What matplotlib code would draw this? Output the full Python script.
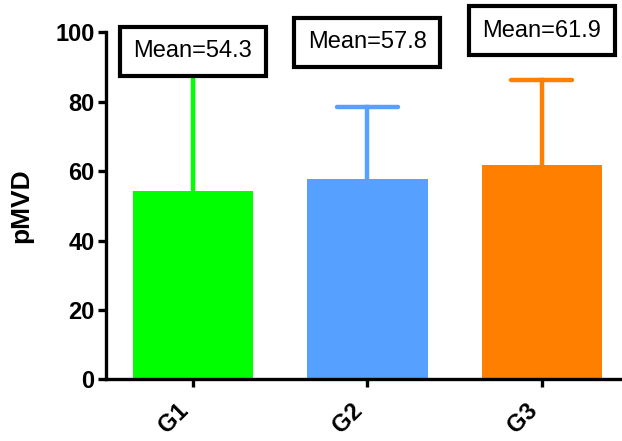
import matplotlib.pyplot as plt
import numpy as np

plt.rcParams["font.family"] = ["Liberation Sans", "DejaVu Sans"]

groups = ["G1", "G2", "G3"]
means = [54.3, 57.8, 61.9]
sd = [34.3, 20.7, 24.4]
colors = ["#00FF00", "#56A0FF", "#FF8000"]
labels = ["Mean=54.3", "Mean=57.8", "Mean=61.9"]
label_y = [94.5, 97.1, 100.5]

fig = plt.figure(figsize=(6.22, 4.41), dpi=100)
ax = fig.add_axes([0.1699, 0.1399, 0.8301, 0.7868])

x = np.arange(len(groups))
ax.bar(x, means, width=0.69, color=colors, zorder=2)
# upper error bars only
for i in range(len(groups)):
    top = means[i] + sd[i]
    ax.plot([x[i], x[i]], [means[i], top], color=colors[i], lw=3.2, zorder=1)
    ax.plot([x[i] - 0.175, x[i] + 0.175], [top, top], color=colors[i], lw=3.2,
            solid_capstyle="round", zorder=1)

for i in range(len(groups)):
    ax.text(x[i], label_y[i], labels[i], fontsize=17, ha="center", va="center",
            clip_on=False, zorder=5,
            bbox=dict(boxstyle="square,pad=0.58", fc="white", ec="black", lw=3))

ax.set_xlim(-0.5, 2.46)
ax.set_ylim(0, 100)
ax.set_yticks([0, 20, 40, 60, 80, 100])
ax.set_xticks(x)
ax.set_xticklabels(groups, rotation=45, ha="right", fontweight="bold", fontsize=17)
for lab in ax.get_yticklabels():
    lab.set_fontweight("bold")
    lab.set_fontsize(17)
ax.set_ylabel("pMVD", fontweight="bold", fontsize=19, labelpad=16)

ax.spines["top"].set_visible(False)
ax.spines["right"].set_visible(False)
ax.spines["left"].set_linewidth(2.4)
ax.spines["bottom"].set_linewidth(2.4)
ax.tick_params(width=2.4, length=6, pad=2)
ax.tick_params(axis="x", pad=8)

fig.savefig("out.png", dpi=100)
